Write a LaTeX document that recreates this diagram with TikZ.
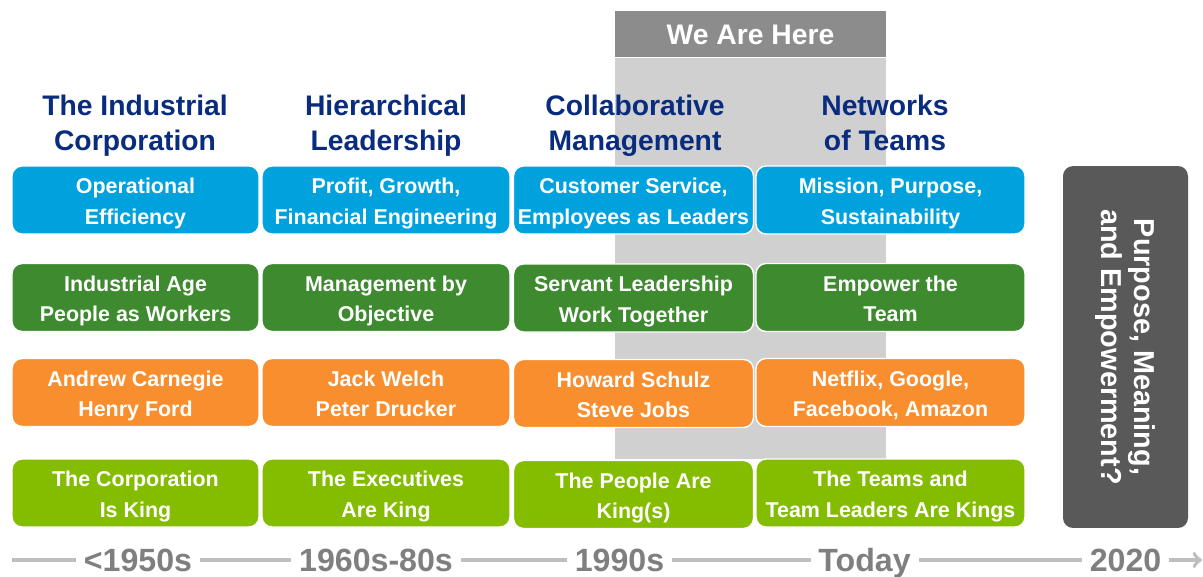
\documentclass[tikz,border=0pt]{standalone}
\usepackage{fontspec}
\setmainfont{Liberation Sans}
\usepackage{tikz}
\usetikzlibrary{positioning}
\definecolor{cblue}{HTML}{00A2DE}
\definecolor{cgreen}{HTML}{3E8A2F}
\definecolor{corange}{HTML}{F88E2E}
\definecolor{clime}{HTML}{84BD00}
\definecolor{cnavy}{HTML}{0A2C7E}
\definecolor{cdark}{HTML}{595959}
\definecolor{cband}{HTML}{D0D0D0}
\definecolor{chead}{HTML}{8C8C8C}
\definecolor{cyear}{HTML}{7F7F7F}
\definecolor{cline}{HTML}{BFBFBF}

\begin{document}
\begin{tikzpicture}[x=0.02cm, y=-0.02cm,
    box/.style = {draw=white, line width=0.8pt, rounded corners=0.2cm, minimum height=1.36cm, inner sep=0pt,
                  text=white, align=center, font=\fontsize{12.2}{17.6}\selectfont\bfseries,
                  text height=27.8pt, text depth=0pt},
    c1/.style = {minimum width=4.94cm}, c2/.style = {minimum width=4.96cm},
    c3/.style = {minimum width=4.80cm}, c4/.style = {minimum width=5.38cm},
    era/.style = {text=cnavy, align=center, font=\fontsize{16.1}{19.8}\selectfont\bfseries},
    year/.style = {text=cyear, font=\fontsize{18.3}{20}\selectfont\bfseries, text height=12.9pt, text depth=0pt,
                   inner xsep=0.15cm, inner ysep=0pt},
    tline/.style = {cline, line width=2.2pt}]
    \useasboundingbox (0,0) rectangle (1203,576);

    % we are here
    \node[fill=cband, minimum width=5.42cm, minimum height=8.02cm, inner sep=0pt](band) at (750.5,258.5){};
    \node[fill=chead, minimum width=5.42cm, minimum height=0.92cm, inner sep=0pt, text=white, text depth=0pt,
          font=\fontsize{16.1}{18}\selectfont\bfseries](here)[above=0pt of band]{We Are Here};

    % eras
    \node[era](era1) at (135,126){The Industrial\\Corporation};
    \node[era](era2) at (386,126){Hierarchical\\Leadership};
    \node[era](era3) at (635,126){Collaborative\\Management};
    \node[era](era4) at (885,123){Networks\\of Teams};

    % goals
    \node[box, c1, fill=cblue](goal1) at (135.5,200){Operational\\Efficiency};
    \node[box, c2, fill=cblue](goal2) at (386,200){Profit, Growth,\\Financial Engineering};
    \node[box, c3, fill=cblue](goal3) at (633.5,200){Customer Service,\\Employees as Leaders};
    \node[box, c4, fill=cblue](goal4) at (890.5,200){Mission, Purpose,\\Sustainability};

    % people
    \node[box, c1, fill=cgreen](people1) at (135.5,297.5){Industrial Age\\People as Workers};
    \node[box, c2, fill=cgreen](people2) at (386,297.5){Management by\\Objective};
    \node[box, c3, fill=cgreen](people3) at (633.5,298){Servant Leadership\\Work Together};
    \node[box, c4, fill=cgreen](people4) at (890.5,297.5){Empower the\\Team};

    % leaders
    \node[box, c1, fill=corange](lead1) at (135.5,392.5){Andrew Carnegie\\Henry Ford};
    \node[box, c2, fill=corange](lead2) at (386,392.5){Jack Welch\\Peter Drucker};
    \node[box, c3, fill=corange](lead3) at (633.5,393.5){Howard Schulz\\Steve Jobs};
    \node[box, c4, fill=corange](lead4) at (890.5,392.5){Netflix, Google,\\Facebook, Amazon};

    % kings
    \node[box, c1, fill=clime](king1) at (135.5,493){The Corporation\\Is King};
    \node[box, c2, fill=clime](king2) at (386,493){The Executives\\Are King};
    \node[box, c3, fill=clime](king3) at (633.5,494.5){The People Are\\King(s)};
    \node[box, c4, fill=clime](king4) at (890.5,493){The Teams and\\Team Leaders Are Kings};

    % future
    \node[box, draw=none, fill=cdark, rotate=-90, minimum width=7.24cm, minimum height=2.5cm,
          text height=, text depth=, font=\fontsize{16.4}{18.7}\selectfont\bfseries](future) at (1125.5,347){Purpose, Meaning,\\and Empowerment?};

    % timeline
    \coordinate(tstart) at (12,560);
    \coordinate(tend) at (1202,560);
    \node[year](year1) at (138,560){<1950s};
    \node[year](year2) at (376,560){1960s-80s};
    \node[year](year3) at (619.5,560){1990s};
    \node[year](year4) at (864.5,560){Today};
    \node[year](year5) at (1125.5,560){2020};
    \draw[tline] (tstart) -- (year1);
    \draw[tline] (year1) -- (year2);
    \draw[tline] (year2) -- (year3);
    \draw[tline] (year3) -- (year4);
    \draw[tline] (year4) -- (year5);
    \draw[tline, ->] (year5) -- (tend);
\end{tikzpicture}
\end{document}
